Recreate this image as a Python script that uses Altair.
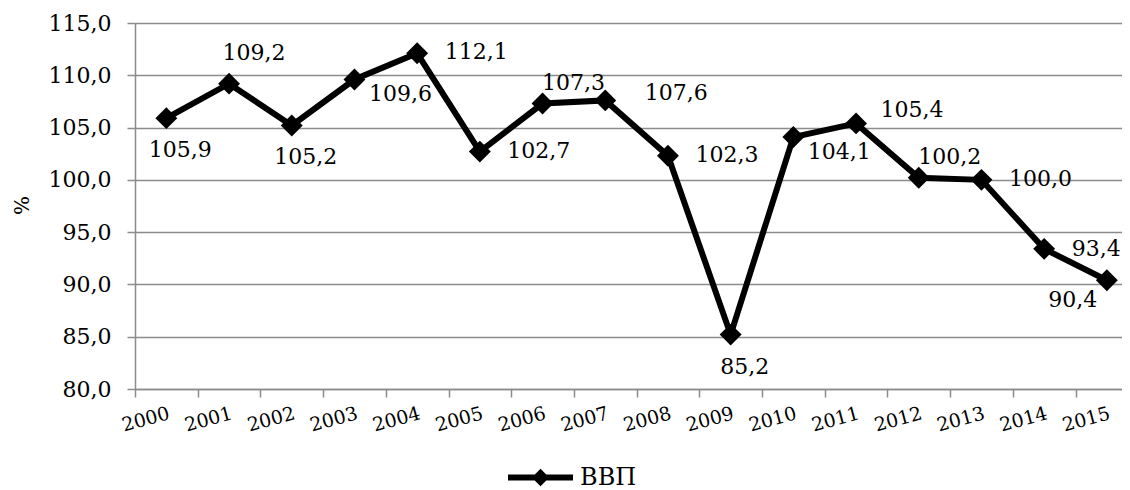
import altair as alt
import pandas as pd

# ---- data ----
years = [2000, 2001, 2002, 2003, 2004, 2005, 2006, 2007,
         2008, 2009, 2010, 2011, 2012, 2013, 2014, 2015]
gdp = [105.9, 109.2, 105.2, 109.6, 112.1, 102.7, 107.3, 107.6,
       102.3, 85.2, 104.1, 105.4, 100.2, 100.0, 93.4, 90.4]
series_name = "ВВП"
y_ticks = [80, 85, 90, 95, 100, 105, 110, 115]
y_title = "%"

# ---- style / placement ----
FONT = "DejaVu Serif"
GRID = "#8c8c8c"
PLOT_W = 987
PLOT_H = 366
BAND = 62.7

LABEL_ANCHORS = {
    "below": (14, 32),
    "above": (25, -31),
    "right": (59, -1),
    "right_near": (52, 0),
    "right_far": (71, -7),
    "right_up": (56, -13),
    "below_right": (46, 15),
    "above_right": (31, -21),
    "below_left": (-34, 20),
}
LABEL_PLACEMENT = {
    2000: "below", 2001: "above", 2002: "below", 2003: "below_right",
    2004: "right", 2005: "right", 2006: "above_right", 2007: "right_far",
    2008: "right", 2009: "below", 2010: "below_right", 2011: "right_up",
    2012: "above_right", 2013: "right", 2014: "right_near", 2015: "below_left",
}

df = pd.DataFrame({"year": years, "value": gdp, "series": [series_name] * len(years)})

x_domain = [years[0] - 0.5, years[0] - 0.5 + PLOT_W / BAND]

x_enc = alt.X(
    "year:Q",
    scale=alt.Scale(domain=x_domain, nice=False, zero=False),
    axis=alt.Axis(
        values=[y - 0.5 for y in years],
        labelExpr="format(datum.value + 0.5, 'd')",
        title=None, grid=False,
        domainColor=GRID, domainWidth=1.5,
        tickColor=GRID, tickWidth=1.5, tickSize=8,
        labelAngle=345, labelAlign="right", labelBaseline="top",
        labelOffset=BAND / 2, labelPadding=7,
        labelFont=FONT, labelFontSize=19, labelColor="black",
        labelOverlap=False, labelFlush=False, labelBound=False,
    ),
)
y_enc = alt.Y(
    "value:Q",
    scale=alt.Scale(domain=[y_ticks[0], y_ticks[-1]], nice=False, zero=False),
    axis=alt.Axis(
        values=y_ticks,
        labelExpr="replace(format(datum.value, '.1f'), '.', ',')",
        title=y_title, grid=True, gridColor=GRID, gridWidth=1.5,
        domainColor=GRID, domainWidth=1.5,
        tickColor=GRID, tickWidth=1.5, tickSize=8,
        labelFont=FONT, labelFontSize=22, labelColor="black", labelPadding=16,
        titleFont=FONT, titleFontSize=20, titleFontWeight="normal",
        titleColor="black", titleAngle=270, titleX=-113, titleY=182,
        titleAlign="center", titleBaseline="middle",
    ),
)

base = alt.Chart(df)

legend_symbol = "M-1,0L1,0M-0.14,0L0,-0.14L0.14,0L0,0.14Z"

line = base.mark_line(color="black", strokeWidth=6, strokeJoin="miter").encode(
    x=x_enc, y=y_enc,
    color=alt.Color(
        "series:N",
        scale=alt.Scale(range=["black"]),
        legend=alt.Legend(
            title=None, orient="none", legendX=370, legendY=419,
            symbolType=legend_symbol, symbolSize=4225, symbolStrokeWidth=6,
            symbolFillColor="black", symbolStrokeColor="black",
            labelFont=FONT, labelFontSize=24, labelColor="black",
            labelOffset=4, padding=0,
        ),
    ),
)

points = base.mark_point(shape="diamond", filled=True, size=480, color="black", opacity=1).encode(
    x=x_enc, y=y_enc
)

text_layers = []
for name, (dx, dy) in LABEL_ANCHORS.items():
    yrs = [y for y, a in LABEL_PLACEMENT.items() if a == name]
    if not yrs:
        continue
    t = (
        base.transform_filter(alt.FieldOneOfPredicate(field="year", oneOf=yrs))
        .transform_calculate(label="replace(format(datum.value, '.1f'), '.', ',')")
        .mark_text(dx=dx, dy=dy, font=FONT, fontSize=22, color="black",
                   align="center", baseline="middle")
        .encode(x=x_enc, y=y_enc, text="label:N")
    )
    text_layers.append(t)

chart = (
    alt.layer(line, points, *text_layers)
    .properties(
        width=PLOT_W, height=PLOT_H,
        autosize=alt.AutoSizeParams(type="none"),
        padding={"left": 127, "top": 15, "right": 0, "bottom": 101},
    )
    .configure_view(stroke=None)
    .configure(background="white")
)

chart.save("out.html", embed_options={"renderer": "svg", "actions": False})
